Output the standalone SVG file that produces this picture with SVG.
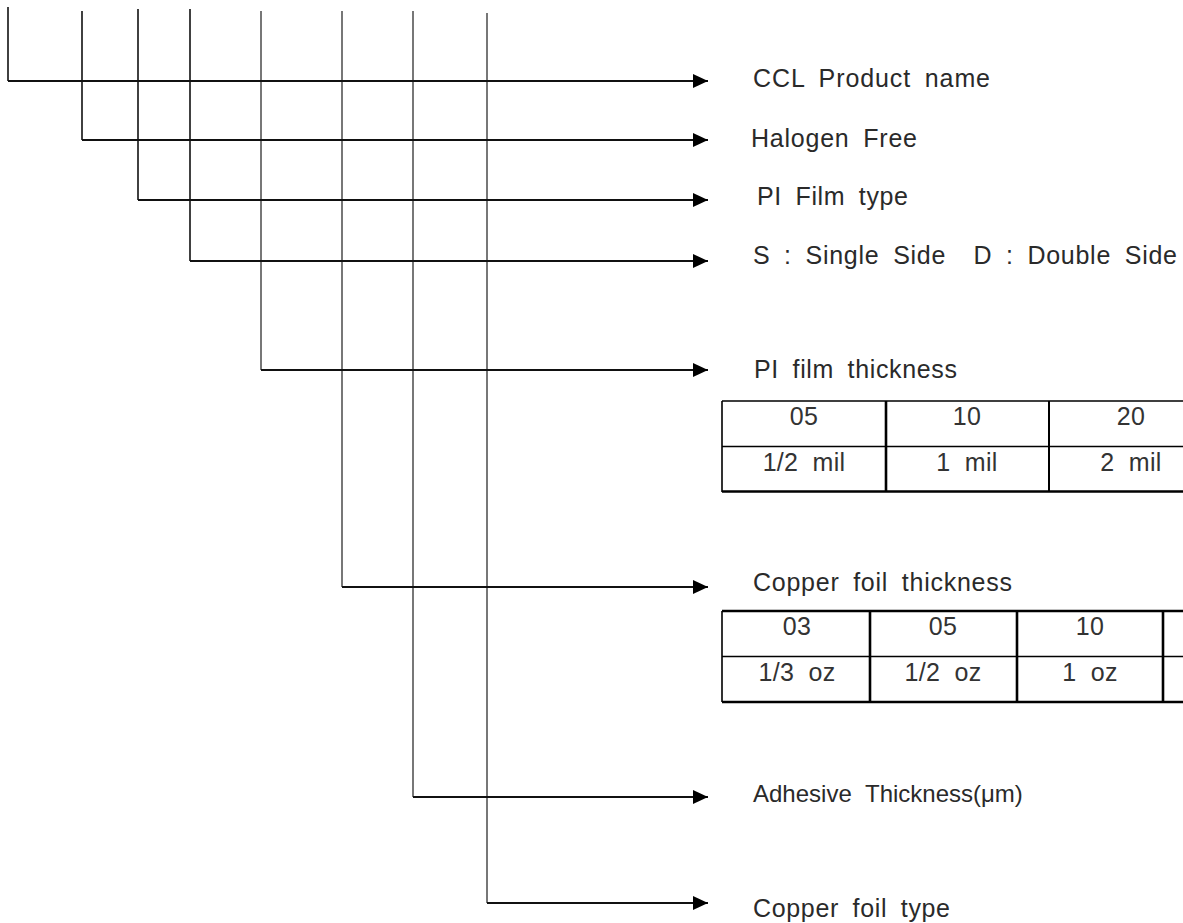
<svg xmlns="http://www.w3.org/2000/svg" width="1183" height="923" viewBox="0 0 1183 923">
<style>
  .lbl { font-family: "Liberation Sans", Arial, sans-serif; font-size: 25px; fill: #2a2a2a; word-spacing: 6px; }
  .cell { font-family: "Liberation Sans", Arial, sans-serif; font-size: 25px; fill: #333; text-anchor: middle; letter-spacing: 0.3px; word-spacing: 7px; }
  .h { stroke: #111; stroke-width: 1.8; fill: none; }
  .v { stroke: #111; stroke-width: 1.6; fill: none; }
  .vg { stroke: #555; stroke-width: 1.6; fill: none; }
  .tb { stroke: #000; stroke-width: 1.6; fill: none; }
  .tbk { stroke: #000; stroke-width: 2.6; fill: none; }
</style>
<defs>
  <marker id="arr" markerUnits="userSpaceOnUse" markerWidth="16" markerHeight="16" refX="15" refY="8" orient="auto">
    <path d="M0,1 L15,8 L0,15 Z" fill="#000"/>
  </marker>
</defs>
<rect width="1183" height="923" fill="#fff"/>
<g id="connectors">
  <path class="v" d="M8,7 V81"/>
  <path class="v" d="M82,11 V140"/>
  <path class="v" d="M138,9 V200"/>
  <path class="v" d="M190,9 V261"/>
  <path class="vg" d="M261,11 V370"/>
  <path class="vg" d="M342,11 V587"/>
  <path class="vg" d="M413,11 V797"/>
  <path class="vg" d="M487,13 V903"/>
  <path class="h" d="M8,81 H708" marker-end="url(#arr)"/>
  <path class="h" d="M82,140 H708" marker-end="url(#arr)"/>
  <path class="h" d="M138,200 H708" marker-end="url(#arr)"/>
  <path class="h" d="M190,261 H708" marker-end="url(#arr)"/>
  <path class="h" d="M261,370 H708" marker-end="url(#arr)"/>
  <path class="h" d="M342,587 H708" marker-end="url(#arr)"/>
  <path class="h" d="M413,797 H708" marker-end="url(#arr)"/>
  <path class="h" d="M487,903 H708" marker-end="url(#arr)"/>
</g>
<g id="n-ccl"><text class="lbl" x="753" y="87" textLength="237" lengthAdjust="spacing">CCL Product name</text></g>
<g id="n-halogen"><text class="lbl" x="751" y="147" textLength="166" lengthAdjust="spacing">Halogen Free</text></g>
<g id="n-pitype"><text class="lbl" x="757" y="205" textLength="151" lengthAdjust="spacing">PI Film type</text></g>
<g id="n-side"><text class="lbl" x="753" y="264" textLength="424" lengthAdjust="spacing" xml:space="preserve">S : Single Side  D : Double Side</text></g>
<g id="n-pithick">
  <text class="lbl" x="754" y="378" textLength="203" lengthAdjust="spacing">PI film thickness</text>
  <path class="tb" d="M722,401 H1183 M722,446.5 H1183 M722,401 V492"/>
  <path class="tbk" d="M722,491.5 H1183 M886,401 V492"/>
  <path class="tb" d="M1049,401 V492" style="stroke-width:2"/>
  <text class="cell" x="804" y="425">05</text>
  <text class="cell" x="967" y="425">10</text>
  <text class="cell" x="1131" y="425">20</text>
  <text class="cell" x="804" y="471">1/2 mil</text>
  <text class="cell" x="967" y="471">1 mil</text>
  <text class="cell" x="1131" y="471">2 mil</text>
</g>
<g id="n-cuthick">
  <text class="lbl" x="753" y="591" textLength="259" lengthAdjust="spacing">Copper foil thickness</text>
  <path class="tbk" d="M722,611 H1183 M722,702 H1183 M870,611 V702 M1017,611 V702 M1163,611 V702"/>
  <path class="tb" d="M722,656.5 H1183 M722,611 V702"/>
  <text class="cell" x="797" y="635">03</text>
  <text class="cell" x="943" y="635">05</text>
  <text class="cell" x="1090" y="635">10</text>
  <text class="cell" x="797" y="681">1/3 oz</text>
  <text class="cell" x="943" y="681">1/2 oz</text>
  <text class="cell" x="1090" y="681">1 oz</text>
</g>
<g id="n-adhesive"><text class="lbl" x="753" y="802" style="font-size:24px;word-spacing:7px">Adhesive Thickness(μm)</text></g>
<g id="n-cutype"><text class="lbl" x="753" y="917" textLength="197" lengthAdjust="spacing">Copper foil type</text></g>
</svg>
